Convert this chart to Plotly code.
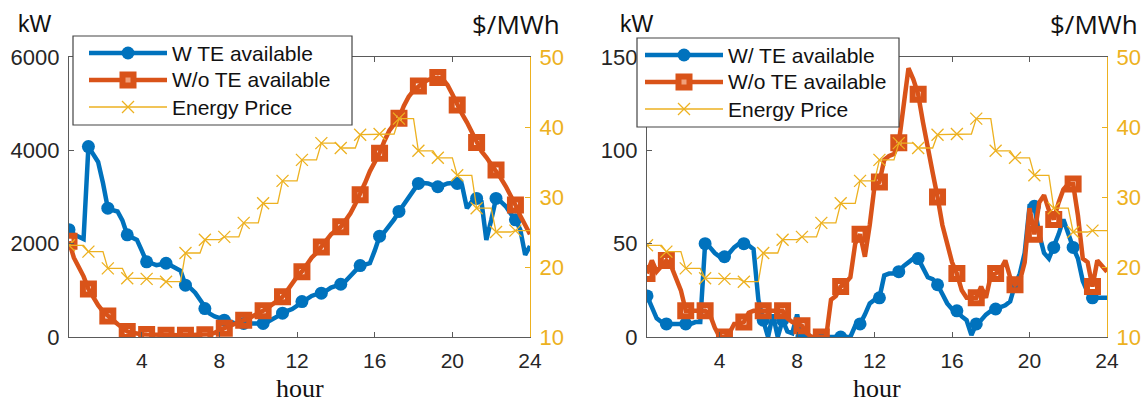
import numpy as np
import plotly.graph_objects as go

# ---------------- data ----------------
# 15-minute samples, t = 0.25 ... 24 h
time_h = np.arange(1, 97) * 0.25

# hourly energy price ($/MWh), held for the four 15-min steps of each hour
price_hourly = [23.1, 22.2, 19.8, 18.4, 18.3, 17.9, 22.0, 23.9, 24.3, 26.3, 29.1, 32.3,
                35.3, 37.7, 37.0, 38.9, 39.0, 41.2, 36.6, 35.6, 33.1, 28.4, 25.0, 25.2]

# left panel (kW)
left_with_te = [2300, 2200, 2150, 2100, 4080, 3900, 3750, 3300,
                2760, 2720, 2690, 2500, 2190, 2130, 2080, 1850,
                1610, 1580, 1540, 1560, 1580, 1530, 1480, 1420,
                1110, 1050, 950, 800, 610, 500, 440, 400,
                360, 330, 300, 290, 290, 300, 310, 300,
                290, 330, 390, 450, 510, 560, 600, 680,
                760, 810, 880, 910, 940, 990, 1060, 1100,
                1130, 1200, 1310, 1420, 1530, 1550, 1580, 1850,
                2160, 2250, 2370, 2520, 2690, 2850, 3010, 3150,
                3290, 3300, 3290, 3250, 3220, 3250, 3290, 3300,
                3290, 3250, 2760, 2900, 2970, 2900, 2080, 2500,
                2970, 2900, 2800, 2650, 2510, 2300, 1760, 1950]

left_without_te = [2050, 1700, 1500, 1300, 1030, 850, 680, 550,
                   450, 380, 280, 200, 120, 90, 70, 60,
                   55, 50, 45, 40, 40, 40, 40, 40,
                   40, 40, 40, 40, 50, 60, 90, 150,
                   190, 230, 280, 330, 360, 400, 450, 510,
                   560, 630, 700, 780, 860, 1000, 1150, 1290,
                   1400, 1550, 1700, 1800, 1930, 2080, 2200, 2280,
                   2360, 2500, 2650, 2850, 3050, 3300, 3550, 3750,
                   3940, 4200, 4420, 4560, 4690, 4950, 5150, 5280,
                   5380, 5450, 5510, 5540, 5560, 5530, 5400, 5200,
                   4970, 4780, 4600, 4380, 4170, 3980, 3850, 3700,
                   3580, 3400, 3230, 3050, 2830, 2600, 2400, 2200]

# right panel (kW)
right_with_te = [22, 16, 10, 8, 7, 7, 7, 7,
                 7, 7, 8, 8, 50, 48, 45, 43,
                 43, 45, 48, 50, 50, 49, 47, 20,
                 9, 0, 12, 0, 9, 3, 2, 12,
                 0, 0, 0, 0, 0, 0, 0, 0,
                 0, 0, 0, 6, 7, 12, 18, 20,
                 21, 33, 34, 34, 35, 38, 40, 42,
                 42, 37, 32, 31, 28, 23, 18, 15,
                 14, 11, 9, 1, 7, 9, 12, 14,
                 15, 16, 17, 19, 28, 34, 45, 70,
                 70, 55, 45, 42, 48, 55, 63, 55,
                 48, 42, 30, 24, 21, 21, 21, 21]

right_without_te = [34, 41, 35, 38, 41, 38, 32, 25,
                    14, 14, 14, 14, 14, 12, 5, 0,
                    0, 2, 7, 7, 8, 13, 14, 14,
                    14, 14, 14, 14, 14, 10, 8, 7,
                    6, 2, 0, 0, 0, 0, 20, 22,
                    27, 29, 32, 50, 55, 43, 60, 81,
                    83, 95, 97, 98, 104, 125, 144, 138,
                    130, 115, 100, 88, 75, 60, 50, 40,
                    34, 25, 21, 21, 21, 27, 21, 33,
                    34, 36, 41, 32, 28, 30, 40, 69,
                    55, 72, 76, 68, 63, 72, 79, 82,
                    82, 65, 42, 40, 27, 41, 38, 35]

x_ticks = [4, 8, 12, 16, 20, 24]
left_kw_ticks = [0, 2000, 4000, 6000]
right_kw_ticks = [0, 50, 100, 150]
price_ticks = [10, 20, 30, 40, 50]

left_legend = ["W TE available", "W/o TE available", "Energy Price"]
right_legend = ["W/ TE available", "W/o TE available", "Energy Price"]

# ---------------- style ----------------
W, H = 1148, 404
BLUE, ORANGE, YELLOW = "#0072BD", "#D95319", "#EDB120"
AXC = "#5a5a5a"
TXT = "#262626"
SANS = "Liberation Sans, Arial, sans-serif"

price_15 = np.repeat(price_hourly, 4)
mk = slice(0, None, 4)


def px(x):
    return x / W


def py(y):
    return 1 - y / H


fig = go.Figure()


def add_panel(xa, ya, ya2, kw_with, kw_without):
    t = time_h
    fig.add_trace(go.Scatter(x=t, y=kw_with, mode="lines", line=dict(color=BLUE, width=4.5),
                             xaxis=xa, yaxis=ya, showlegend=False))
    fig.add_trace(go.Scatter(x=t[mk], y=np.array(kw_with)[mk], mode="markers",
                             marker=dict(symbol="circle", size=13, color=BLUE),
                             xaxis=xa, yaxis=ya, showlegend=False))
    fig.add_trace(go.Scatter(x=t, y=kw_without, mode="lines", line=dict(color=ORANGE, width=4.5),
                             xaxis=xa, yaxis=ya, showlegend=False))
    fig.add_trace(go.Scatter(x=t[mk], y=np.array(kw_without)[mk], mode="markers",
                             marker=dict(symbol="square-open", size=11, color=ORANGE,
                                         line=dict(color=ORANGE, width=6)),
                             xaxis=xa, yaxis=ya, showlegend=False))
    fig.add_trace(go.Scatter(x=t, y=price_15, mode="lines", line=dict(color=YELLOW, width=1.3),
                             xaxis=xa, yaxis=ya2, showlegend=False))
    fig.add_trace(go.Scatter(x=t[mk], y=price_15[mk], mode="markers",
                             marker=dict(symbol="x-thin-open", size=12, color=YELLOW,
                                         line=dict(color=YELLOW, width=1.3)),
                             xaxis=xa, yaxis=ya2, showlegend=False))


add_panel("x", "y", "y2", left_with_te, left_without_te)
add_panel("x2", "y3", "y4", right_with_te, right_without_te)

ydom = [py(337), py(57)]
common_x = dict(range=[0.25, 24], tickvals=x_ticks, ticks="inside", ticklen=5, tickwidth=1.2,
                tickcolor=AXC, showline=True, linecolor=AXC, linewidth=1.3, mirror="ticks",
                showgrid=False, zeroline=False, tickfont=dict(family=SANS, size=21, color=TXT),
                ticklabelstandoff=5, automargin=False)
common_y = dict(ticks="inside", ticklen=5, tickwidth=1.2, tickcolor=AXC, showline=True,
                linecolor=AXC, linewidth=1.3, showgrid=False, zeroline=False,
                tickfont=dict(family=SANS, size=22, color=TXT), ticklabelstandoff=4,
                automargin=False)
common_p = dict(range=[10, 50], tickvals=price_ticks, side="right", ticks="inside", ticklen=5,
                tickwidth=1.2, tickcolor=YELLOW, showline=True, linecolor=YELLOW, linewidth=1.3,
                showgrid=False, zeroline=False, tickfont=dict(family=SANS, size=22, color=YELLOW),
                ticklabelstandoff=4, automargin=False)

fig.update_layout(
    width=W, height=H, margin=dict(l=0, r=0, t=0, b=0, autoexpand=False),
    paper_bgcolor="white", plot_bgcolor="white", showlegend=False,
    xaxis=dict(domain=[px(69), px(530)], anchor="y", **common_x),
    yaxis=dict(domain=ydom, anchor="x", range=[0, 6000], tickvals=left_kw_ticks, **common_y),
    yaxis2=dict(overlaying="y", anchor="x", **common_p),
    xaxis2=dict(domain=[px(647), px(1107)], anchor="y3", **common_x),
    yaxis3=dict(domain=ydom, anchor="x2", range=[0, 150], tickvals=right_kw_ticks, **common_y),
    yaxis4=dict(overlaying="y3", anchor="x2", **common_p),
)

shapes = []
annotations = []


def legend(box, line_x, labels):
    x0, y0, x1, y1 = box
    shapes.append(dict(type="rect", xref="paper", yref="paper", x0=px(x0), x1=px(x1),
                       y0=py(y0), y1=py(y1), line=dict(color="#444444", width=1.2),
                       fillcolor="white", layer="above"))
    lx0, lx1 = line_x
    mx = (lx0 + lx1) / 2
    rows = [y0 + 17, y0 + 44, y0 + 71]
    styles = [(BLUE, 4.5), (ORANGE, 4.5), (YELLOW, 1.3)]
    for (col, lw), ry, lab in zip(styles, rows, labels):
        shapes.append(dict(type="line", xref="paper", yref="paper", x0=px(lx0), x1=px(lx1),
                           y0=py(ry), y1=py(ry), line=dict(color=col, width=lw), layer="above"))
        annotations.append(dict(xref="paper", yref="paper", x=px(lx1 + 3), y=py(ry), text=lab,
                                showarrow=False, xanchor="left", yanchor="middle",
                                font=dict(family=SANS, size=21, color="#111111")))
    r = 6.5
    shapes.append(dict(type="circle", xref="paper", yref="paper", x0=px(mx - r), x1=px(mx + r),
                       y0=py(rows[0] + r), y1=py(rows[0] - r), fillcolor=BLUE,
                       line=dict(color=BLUE, width=0), layer="above"))
    s = 5.5
    shapes.append(dict(type="rect", xref="paper", yref="paper", x0=px(mx - s), x1=px(mx + s),
                       y0=py(rows[1] + s), y1=py(rows[1] - s), fillcolor="#f0a07a",
                       line=dict(color=ORANGE, width=6), layer="above"))
    k = 6
    for d in (1, -1):
        shapes.append(dict(type="line", xref="paper", yref="paper", x0=px(mx - k), x1=px(mx + k),
                           y0=py(rows[2] - d * k), y1=py(rows[2] + d * k),
                           line=dict(color=YELLOW, width=1.3), layer="above"))


legend((73, 36, 352, 125), (89, 167), left_legend)
legend((637, 38, 899, 127), (645, 723), right_legend)


def label(x, y, text, family, size, color="#111111", yanchor="middle", pad=1):
    annotations.append(dict(xref="paper", yref="paper", x=px(x), y=py(y), text=text,
                            showarrow=False, xanchor="center", yanchor=yanchor, borderpad=pad,
                            font=dict(family=family, size=size, color=color)))


label(35, 24, "kW", SANS, 23)
label(516, 24, "$/MWh", "Open Sans", 26)
label(300, 404, "hour", "Liberation Serif", 26, yanchor="bottom", pad=0)
label(637, 24, "kW", SANS, 23)
label(1094, 24, "$/MWh", "Open Sans", 26)
label(877, 404, "hour", "Liberation Serif", 26, yanchor="bottom", pad=0)

fig.update_layout(shapes=shapes, annotations=annotations)
fig.write_html("out.html", config={"displayModeBar": False},
               post_script="document.body.style.margin='0px';")
